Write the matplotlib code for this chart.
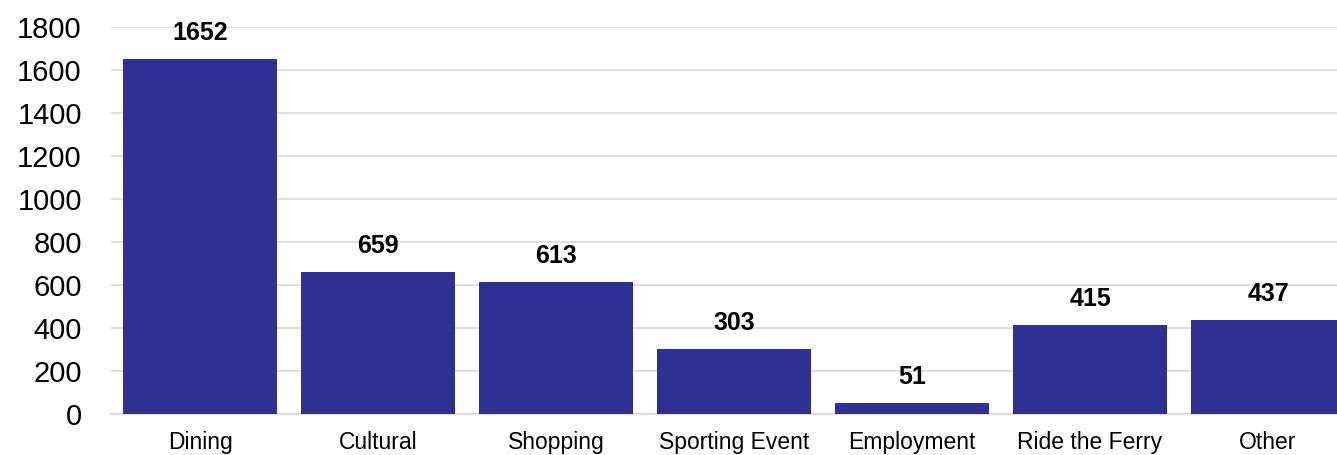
import numpy as np
import matplotlib.pyplot as plt

plt.rcParams['font.family'] = ['Liberation Sans', 'DejaVu Sans']

categories = ['Dining', 'Cultural', 'Shopping', 'Sporting Event',
              'Employment', 'Ride the Ferry', 'Other']
counts = [1652, 659, 613, 303, 51, 415, 437]
yticks = [0, 200, 400, 600, 800, 1000, 1200, 1400, 1600, 1800]

W, H = 1337, 455
fig = plt.figure(figsize=(W / 100, H / 100), dpi=100)
# last slot runs past the right edge of the figure, like the original
ax = fig.add_axes([111 / W, 41 / H, 1246 / W, 387 / H])

x = np.arange(len(categories))
bars = ax.bar(x, counts, width=0.865, color='#2E3192', zorder=3)

for b, v in zip(bars, counts):
    ax.annotate(str(v), (b.get_x() + b.get_width() / 2, v),
                xytext=(0, 10), textcoords='offset points',
                ha='center', va='bottom', fontsize=18, fontweight='bold',
                color='black', zorder=4)

ax.set_xlim(-0.5, len(categories) - 0.5)
ax.set_ylim(0, 1800)
ax.set_yticks(yticks)
ax.set_yticklabels([str(t) for t in yticks], fontsize=21)
ax.set_xticks(x)
ax.set_xticklabels(categories, fontsize=16.5)
ax.tick_params(axis='both', length=0)
ax.tick_params(axis='y', pad=21)
ax.tick_params(axis='x', pad=12)

ax.yaxis.grid(True, color='#D9D9D9', linewidth=1.2, zorder=0)
for s in ['top', 'right', 'left']:
    ax.spines[s].set_visible(False)
ax.spines['bottom'].set_color('#D9D9D9')
ax.spines['bottom'].set_linewidth(1.2)

fig.savefig('out.png', dpi=100)
